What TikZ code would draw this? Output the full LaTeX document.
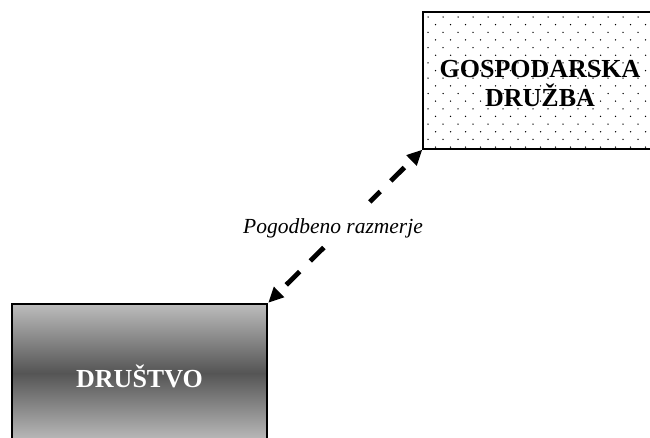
\documentclass[tikz,border=0pt]{standalone}
\usepackage{fontspec}
\setmainfont{Liberation Serif}
\usetikzlibrary{arrows.meta,calc}
\begin{document}
\begin{tikzpicture}[x=1pt,y=-1pt,
  boxtext/.style={font=\fontsize{26}{29}\selectfont\bfseries, align=center},
  relhalf/.style={line width=4.8pt, dash pattern=on 19pt off 15pt, dash phase=24pt, {Triangle[width=15pt,length=15pt,line width=0pt]}-, shorten <=1pt},
  lbl/.style={font=\fontsize{21.5}{24}\selectfont\itshape, inner sep=2pt}]
\useasboundingbox (0,0) rectangle (650,437);
\clip (0,0) rectangle (650,437);
% top box
\node[draw=none, minimum width=234pt, minimum height=137pt, inner sep=0pt] (firm) at (540,80.5) {};
\begin{scope}
\clip (firm.south west) rectangle (firm.north east);
\foreach \r in {0,...,17} {
  \pgfmathsetmacro{\yy}{17+7.65*\r}
  \pgfmathsetmacro{\off}{mod(\r,2)*7.5}
  \foreach \c in {0,...,16} {
    \fill ({428+\off+15*\c},\yy) circle (0.75pt);
  }
}
\end{scope}
\draw[line width=1.6pt] (firm.south west) rectangle (firm.north east);
\node[boxtext] (firmtext) at (540,84) {GOSPODARSKA\\DRUŽBA};
% bottom box
\shade[top color={rgb,255:red,188;green,188;blue,188}, bottom color={rgb,255:red,85;green,85;blue,85}] (12,304) rectangle (267,373);
\shade[top color={rgb,255:red,85;green,85;blue,85}, bottom color={rgb,255:red,188;green,188;blue,188}] (12,373) rectangle (267,442);
\node[draw, line width=1.6pt, minimum width=255pt, minimum height=138pt, inner sep=0pt] (soc) at (139.5,373) {};
\node[boxtext, text=white] (soctext) at (139.5,376) {DRUŠTVO};
% relation
\coordinate (ga) at ($(soc.north east)!0.368!(firm.south west)$);
\coordinate (gb) at ($(soc.north east)!0.658!(firm.south west)$);
\draw[relhalf] (soc.north east) -- (ga);
\draw[relhalf] (firm.south west) -- (gb);
\node[lbl] (rel) at (333,228) {Pogodbeno razmerje};
\end{tikzpicture}
\end{document}
